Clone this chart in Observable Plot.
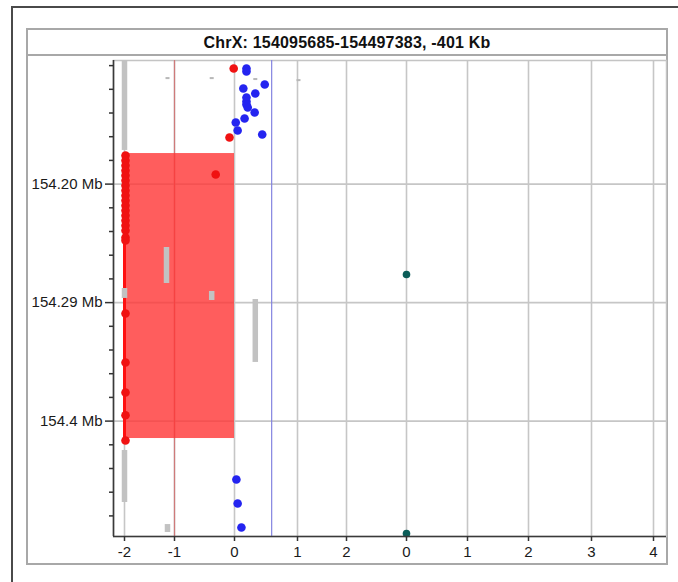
<!DOCTYPE html>
<html><head><meta charset="utf-8">
<script src="https://cdn.jsdelivr.net/npm/d3@7"></script>
<script src="https://cdn.jsdelivr.net/npm/@observablehq/plot@0.6"></script>
<style>
body{margin:0;background:#fff;font-family:"Liberation Sans",Arial,sans-serif;}
#page{position:relative;width:678px;height:582px;overflow:hidden;background:#fff;}
#outer{position:absolute;left:11px;top:6px;width:720px;height:620px;border-left:2px solid #4a4a4a;border-top:2px solid #4a4a4a;}
#panel{position:absolute;left:26px;top:28px;width:638px;height:533px;border:2px solid #a8a8a8;}
#title{height:24px;border-bottom:2px solid #a8a8a8;text-align:center;font-weight:bold;font-size:16px;line-height:25px;color:#111;letter-spacing:0.2px;}
#chart{position:absolute;left:0;top:26px;}
#chart svg{overflow:visible;}
#chart svg text{font-size:15px !important;fill:#1a1a1a;}
</style>
</head><body>
<div id="page">
  <div id="outer"></div>
  <div id="panel">
    <div id="title">ChrX: 154095685-154497383, -401 Kb</div>
    <div id="chart"></div>
  </div>
</div>
<script>
// ---- data ----
const yStart = 154.095685, yEnd = 154.497383;          // Mb
const xTicks = [-2, -1, 0, 1, 2, 3, 4, 5, 6, 7];
const xTickLabels = ["-2", "-1", "0", "1", "2", "0", "1", "2", "3", "4"];
const panel2Offset = 3;                                  // second panel's 0 sits at slot 3
const yMajor = [154.2, 154.3, 154.4];
const yMajorLabels = ["154.20 Mb", "154.29 Mb", "154.4 Mb"];
const yMinor = [154.10, 154.12, 154.14, 154.16, 154.18, 154.22, 154.24, 154.26, 154.28,
                154.32, 154.34, 154.36, 154.38, 154.42, 154.44, 154.46, 154.48];
const redLineX = -1;
const blueLineX = 0.59;

// red block
const blockX1 = [-2], blockX2 = [0], blockY1 = [154.1742], blockY2 = [154.4147];

// red dots
const redX = [-2, -2, -2, -2, -2, -2, -2, -2, -2, -2, -2, -2, -2, -2, -2, -2, -2, -2, -2, -2, -2, -2, -2,
              -0.03, -0.1, -0.33];
const redY = [154.1759, 154.1801, 154.1843, 154.1885, 154.1927, 154.1970, 154.2012, 154.2054, 154.2096,
              154.2138, 154.2181, 154.2223, 154.2265, 154.2307, 154.2349, 154.2392, 154.2451, 154.2476,
              154.3092, 154.3505, 154.3759, 154.3951, 154.4164,
              154.1024, 154.1607, 154.1919];

// blue dots
const blueX = [0.19, 0.19, 0.48, 0.14, 0.33, 0.19, 0.19, 0.19, 0.21, 0.32, 0.16, 0.02, 0.05, 0.44,
               0.03, 0.05, 0.11];
const blueY = [154.1024, 154.1050, 154.1159, 154.1193, 154.1235, 154.1269, 154.1303, 154.1328, 154.1353,
               154.1396, 154.1446, 154.1480, 154.1548, 154.1581,
               154.4493, 154.4695, 154.4898];

// teal dots (second panel values)
const tealX = [0, 0];
const tealY = [154.2763, 154.4948];

// gray segments
const grayX  = [-2, -2, -2, -2, -2, -1.16, -0.38, 0.33, -1.14];
const grayY1 = [154.0957, 154.1902, 154.1995, 154.2881, 154.4248, 154.2535, 154.2906, 154.2974, 154.4873];
const grayY2 = [154.1716, 154.1945, 154.2029, 154.2965, 154.4687, 154.2839, 154.2982, 154.3505, 154.4940];
// small gray dashes near the top
const dashX  = [-1.14, -0.38, 0.33, 1.02];
const dashY1 = [154.1101, 154.1101, 154.1109, 154.1118];
const dashY2 = [154.1118, 154.1118, 154.1126, 154.1135];

// ---- build tables ----
const zipPts = (xs, ys) => xs.map((x, i) => ({x, y: ys[i]}));
const redPts = zipPts(redX, redY);
const bluePts = zipPts(blueX, blueY);
const tealPts = tealX.map((x, i) => ({x: x + panel2Offset, y: tealY[i]}));
const block = blockX1.map((x, i) => ({x1: x, x2: blockX2[i], y1: blockY1[i], y2: blockY2[i]}));
const grays = grayX.map((x, i) => ({x, y1: grayY1[i], y2: grayY2[i]}));
const dashes = dashX.map((x, i) => ({x, y1: dashY1[i], y2: dashY2[i]}));
const xLabelOf = new Map(xTicks.map((t, i) => [t, xTickLabels[i]]));
const yLabelOf = new Map(yMajor.map((t, i) => [t, yMajorLabels[i]]));

const W = 638, H = 506;
const xDomain = [-2.22, ...xTicks, 7.21];
const xRange = [85, 96, 146, 206, 269, 318, 378, 439, 500, 563, 625, 638];

const chart = Plot.plot({
  width: W, height: H,
  marginLeft: 85, marginRight: 0, marginTop: 4, marginBottom: 26,
  style: {fontFamily: "'Liberation Sans', Arial, sans-serif", fontSize: "15px", color: "#1a1a1a", background: "transparent"},
  x: {type: "linear", domain: xDomain, range: xRange, axis: null},
  y: {domain: [yStart, yEnd], reverse: true, axis: null},
  marks: [
    Plot.gridX(xTicks, {stroke: "#c6c6c6", strokeOpacity: 1, strokeWidth: 1.6}),
    Plot.gridY(yMajor, {stroke: "#c6c6c6", strokeOpacity: 1, strokeWidth: 1.6}),
    Plot.frame({stroke: "#c4c4c4", strokeWidth: 1.5}),
    Plot.ruleX([redLineX], {stroke: "#cf7a7a", strokeWidth: 1.2}),
    Plot.ruleX([blueLineX], {stroke: "#8484e0", strokeWidth: 1.2}),
    Plot.rect(block, {x1: "x1", x2: "x2", y1: "y1", y2: "y2", fill: "#ff3535", fillOpacity: 0.8}),
    Plot.ruleX(block, {x: "x1", y1: "y1", y2: "y2", stroke: "#ff1010", strokeWidth: 3}),
    Plot.ruleX(grays, {x: "x", y1: "y1", y2: "y2", stroke: "#c2c2c2", strokeWidth: 5.5}),
    Plot.ruleX(dashes, {x: "x", y1: "y1", y2: "y2", stroke: "#b8b8b8", strokeWidth: 4}),
    Plot.dot(redPts, {x: "x", y: "y", r: 4.3, fill: "#f01212", dx: 1}),
    Plot.dot(bluePts, {x: "x", y: "y", r: 4.3, fill: "#2424f0"}),
    Plot.dot(tealPts, {x: "x", y: "y", r: 3.8, fill: "#0b5d58"}),
    Plot.ruleY([yEnd], {stroke: "#3a3a3a", strokeWidth: 1.6}),
    Plot.ruleX([xDomain[0]], {stroke: "#3a3a3a", strokeWidth: 1.6}),
    Plot.axisX({ticks: xTicks, tickFormat: d => xLabelOf.get(d), tickSize: 5, tickPadding: 5,
                fontSize: 15, stroke: "#333", strokeWidth: 1.5, label: null}),
    Plot.axisY({ticks: yMajor, tickFormat: d => yLabelOf.get(d), tickSize: 8, tickPadding: 3,
                fontSize: 15, stroke: "#333", strokeWidth: 1.5, label: null}),
    Plot.axisY({ticks: yMinor, tickFormat: () => "", tickSize: 4, stroke: "#333", strokeWidth: 1.5, label: null})
  ]
});
document.getElementById("chart").append(chart);
</script>
</body></html>
